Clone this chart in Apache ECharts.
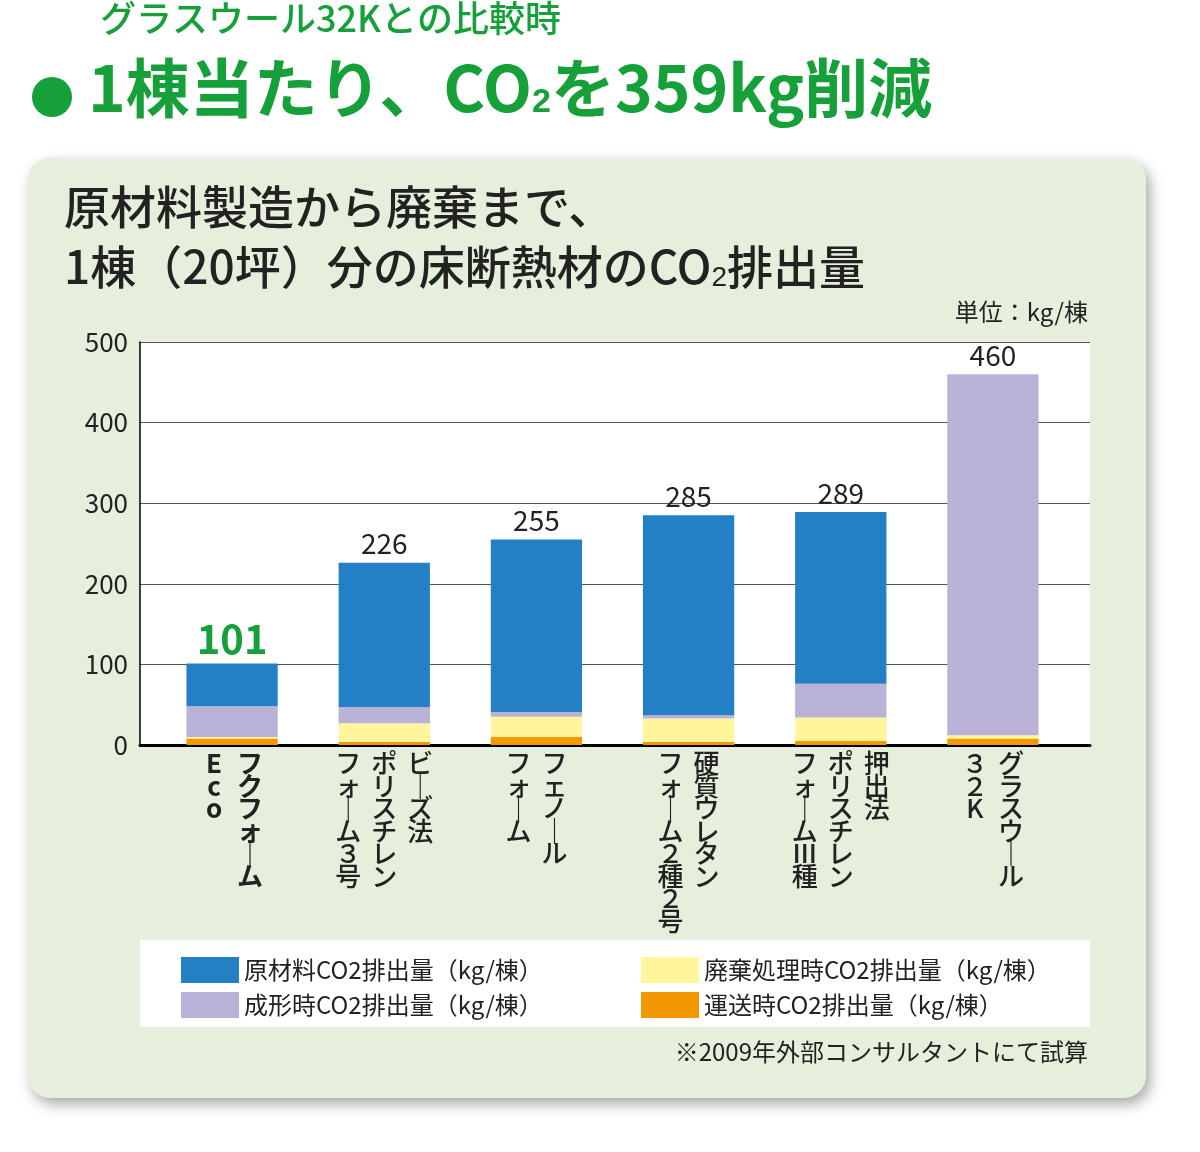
<!DOCTYPE html>
<html><head><meta charset="utf-8">
<script src="https://cdn.jsdelivr.net/npm/echarts@6/dist/echarts.min.js"></script>
<style>body{margin:0;background:#fff}#c{width:1200px;height:1152px}</style>
</head><body><div id="c"></div>
<script>
const categories = ['フクフォームEco', 'ビーズ法ポリスチレンフォーム3号', 'フェノールフォーム', '硬質ウレタンフォーム2種2号', '押出法ポリスチレンフォームⅢ種', 'グラスウール32K']
const labelCols = [
	['フクフォ｜ム', 'Eco'],
	['ビ｜ズ法', 'ポリスチレン', 'フォ｜ム３号'],
	['フェノ｜ル', 'フォ｜ム'],
	['硬質ウレタン', 'フォ｜ム２種２号'],
	['押出法', 'ポリスチレン', 'フォ｜ムⅢ種'],
	['グラスウ｜ル', '３２K']
]
const transport = [8, 4, 10, 4, 5, 8]
const disposal = [2, 23, 25, 29, 29, 4]
const forming = [38, 20, 6, 4, 42, 448]
const material = [53, 179, 214, 248, 213, 0]
const totals = [101, 226, 255, 285, 289, 460]

const FONT = '"Noto Sans CJK JP", sans-serif'
const chart = echarts.init(document.getElementById('c'))

const topLabel = {
	show: true, position: 'top', color: '#222', fontSize: 28, fontFamily: FONT,
	formatter: (p) => p.dataIndex === 0 ? '{g|' + totals[0] + '}' : totals[p.dataIndex],
	rich: { g: { color: '#16a03a', fontSize: 40, fontWeight: 'bold', fontFamily: FONT } }
}
function bar(name, data, color, label) {
	return { name, type: 'bar', stack: 's', xAxisIndex: 1, yAxisIndex: 1, data, barWidth: '60%', itemStyle: { color }, label: label || { show: false } }
}
const series = [
	bar('運送時CO2排出量（kg/棟）', transport, '#f39800'),
	bar('廃棄処理時CO2排出量（kg/棟）', disposal, '#fff59a'),
	bar('成形時CO2排出量（kg/棟）', forming.map((v, i) => i === 5 ? { value: v, label: topLabel } : v), '#bab2d6'),
	bar('原材料CO2排出量（kg/棟）', material.map((v, i) => i === 5 ? { value: v, label: { show: false } } : v), '#2480c5', topLabel)
]

const option = {
	animation: false,
	textStyle: { fontFamily: FONT },
	grid: [
		{ left: 140, right: 110, top: 342, bottom: 407 },
		{ left: 156, right: 131, top: 342, bottom: 407 }
	],
	xAxis: [
		{ type: 'category', gridIndex: 0, data: [''], axisLine: { lineStyle: { color: '#000', width: 3 } }, axisTick: { show: false }, axisLabel: { show: false } },
		{ type: 'category', gridIndex: 1, data: categories, axisLine: { show: false }, axisTick: { show: false }, axisLabel: { show: false } }
	],
	yAxis: [
		{
			type: 'value', gridIndex: 0, min: 0, max: 500, interval: 100,
			axisLine: { show: true, lineStyle: { color: '#000', width: 1.5 } },
			axisTick: { show: false },
			axisLabel: { color: '#222', fontSize: 26, margin: 12 },
			splitLine: { lineStyle: { color: '#555', width: 1 } }
		},
		{ type: 'value', gridIndex: 1, min: 0, max: 500, show: false }
	],
	legend: [
		{ data: [series[3].name, series[2].name], orient: 'vertical', left: 176, top: 952, itemWidth: 58, itemHeight: 26, itemGap: 9, icon: 'rect', textStyle: { fontSize: 24, color: '#222' } },
		{ data: [series[1].name, series[0].name], orient: 'vertical', left: 636, top: 952, itemWidth: 58, itemHeight: 26, itemGap: 9, icon: 'rect', textStyle: { fontSize: 24, color: '#222' } }
	],
	series,
	graphic: [
		{ type: 'rect', shape: { x: 28, y: 158, width: 1118, height: 940, r: 22 }, style: { fill: '#e5efdb', shadowBlur: 14, shadowColor: 'rgba(0,0,0,0.35)', shadowOffsetX: 4, shadowOffsetY: 6 }, z: -10 },
		{ type: 'rect', shape: { x: 140, y: 342, width: 950, height: 403 }, style: { fill: '#fff' }, z: -9 },
		{ type: 'rect', shape: { x: 140, y: 940, width: 950, height: 87 }, style: { fill: '#fff' }, z: -9 },
		{ type: 'text', left: 100, top: 0, style: { text: 'グラスウール32Kとの比較時', fill: '#16a03a', font: '500 36px ' + FONT } },
		{ type: 'circle', shape: { cx: 52, cy: 97, r: 20 }, style: { fill: '#16a03a' } },
		{ type: 'text', left: 88, top: 56, style: { text: '1棟当たり、CO{s|2}を359kg削減', fill: '#16a03a', font: 'bold 64px ' + FONT, rich: { s: { fontSize: 34, fontWeight: 'bold', fill: '#16a03a', padding: [30, 0, 0, 0] } } } },
		{ type: 'text', left: 64, top: 184, style: { text: '原材料製造から廃棄まで、', fill: '#222', font: '500 46px ' + FONT } },
		{ type: 'text', left: 64, top: 244, style: { text: '1棟（20坪）分の床断熱材のCO{s|2}排出量', fill: '#222', font: '500 46px ' + FONT, rich: { s: { fontSize: 28, fontWeight: 500, fill: '#222', padding: [22, 0, 0, 0] } } } },
		{ type: 'text', right: 112, top: 300, style: { text: '単位：kg/棟', fill: '#222', font: '24px ' + FONT } },
		{ type: 'text', right: 112, top: 1040, style: { text: '※2009年外部コンサルタントにて試算', fill: '#222', font: '24px ' + FONT } }
	]
}
chart.setOption(option)

// vertical category labels, columns read right-to-left
const extra = []
labelCols.forEach((cols, i) => {
	const cx = chart.convertToPixel({ xAxisIndex: 1 }, i)
	const n = cols.length
	cols.forEach((col, j) => {
		const x = cx + ((n - 1) / 2 - j) * 36
		extra.push({
			type: 'text', x, y: 752,
			style: { text: col.split('').join('\n'), fill: '#222', align: 'center', lineHeight: 22.5, font: (i === 0 ? 'bold ' : '500 ') + '26px ' + FONT }
		})
	})
})
chart.setOption({ graphic: option.graphic.concat(extra) })
</script>
</body></html>
